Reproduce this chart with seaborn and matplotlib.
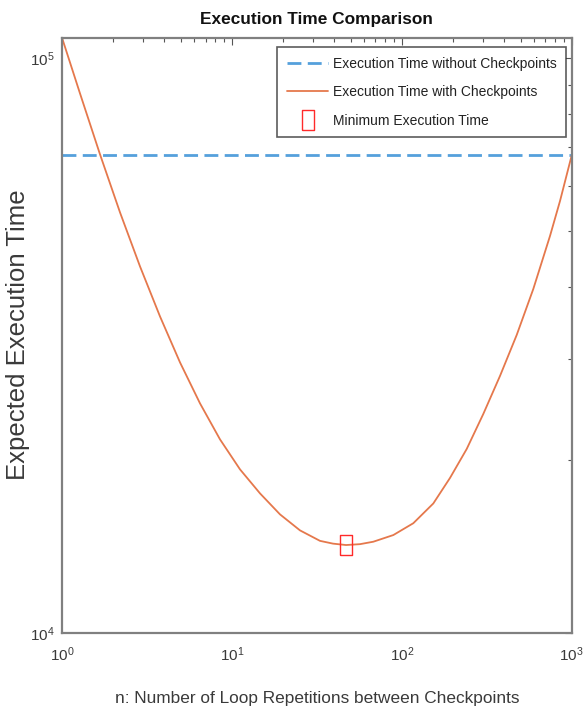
import matplotlib
matplotlib.use("Agg")
import matplotlib.pyplot as plt
import seaborn as sns
import numpy as np
import pandas as pd

# ---- data ----
n_values = [1, 1.276, 1.674, 2.195, 2.878, 3.774, 4.949, 6.491, 8.511, 11.16,
            14.64, 19.19, 25.17, 33.0, 39.36, 46.95, 56.76, 67.96, 89.13,
            116.9, 153.3, 192.2, 241.0, 301.8, 378.5, 474.7, 594.2, 745.2,
            853.5, 1000.0]
time_with_ckpt = [108600, 86890, 68060, 53950, 43460, 35570, 29590, 25110,
                  21740, 19280, 17510, 16100, 15100, 14480, 14320, 14240,
                  14290, 14430, 14820, 15540, 16820, 18630, 20920, 24070,
                  28030, 33030, 39700, 49090, 56470, 67800]
baseline_n = [1, 1000]
time_without_ckpt = [68000, 68000]
min_n = [46.95]
min_time = [14240]

title_text = "Execution Time Comparison"
xlabel_text = "n: Number of Loop Repetitions between Checkpoints"
ylabel_text = "Expected Execution Time"
legend_labels = ["Execution Time without Checkpoints",
                 "Execution Time with Checkpoints",
                 "Minimum Execution Time"]

sns.set_theme(style="white")
plt.rcParams['font.family'] = ['Liberation Sans', 'DejaVu Sans']
plt.rcParams['mathtext.default'] = 'regular'
plt.rcParams['mathtext.fontset'] = 'custom'
plt.rcParams['mathtext.rm'] = 'Liberation Sans'

fig = plt.figure(figsize=(5.86, 7.16), dpi=100)
ax = fig.add_axes([62/586, 1-633.3/716, (571.7-62)/586, (633.3-37.7)/716])
ax.set_xscale('log')
ax.set_yscale('log')

df_base = pd.DataFrame({"n": baseline_n, "t": time_without_ckpt})
df_curve = pd.DataFrame({"n": n_values, "t": time_with_ckpt})

sns.lineplot(data=df_base, x="n", y="t", ax=ax, color="#55a0dc", lw=2.0,
             linestyle=(0, (5, 2.3)), label=legend_labels[0])
sns.lineplot(data=df_curve, x="n", y="t", ax=ax, color="#e5784c", lw=1.3,
             label=legend_labels[1], sort=False)
rect = [(-0.65, -1), (0.65, -1), (0.65, 1), (-0.65, 1), (-0.65, -1)]
ax.plot(min_n, min_time, linestyle='none', marker=rect, markersize=14,
        markerfacecolor='none', markeredgecolor='#ff2a2a', markeredgewidth=1.0,
        label=legend_labels[2])

ax.set_xlim(1, 1000)
ax.set_ylim(1e4, 1.086e5)

gray = "#3a3a3a"
for s in ax.spines.values():
    s.set_color("#808080")
    s.set_linewidth(1.6)
ax.tick_params(which='both', direction='in', top=True, right=True,
               colors="#555555", labelcolor=gray, labelsize=11)
ax.tick_params(axis='x', which='major', pad=9)
ax.tick_params(axis='y', which='major', pad=5)
ax.tick_params(which='major', length=5, width=0.8)
ax.tick_params(which='minor', length=3, width=0.8)
ax.xaxis.set_minor_locator(matplotlib.ticker.LogLocator(base=10, subs=np.arange(2, 10), numticks=20))
ax.yaxis.set_minor_locator(matplotlib.ticker.LogLocator(base=10, subs=np.arange(2, 10), numticks=20))
ax.xaxis.set_minor_formatter(matplotlib.ticker.NullFormatter())
ax.yaxis.set_minor_formatter(matplotlib.ticker.NullFormatter())

ax.set_title(title_text, fontsize=12.4, fontweight='bold', color="#111111", pad=10)
ax.set_xlabel(xlabel_text, fontsize=12.4, color=gray, labelpad=19)
ax.set_ylabel(ylabel_text, fontsize=18.5, color=gray)
ax.yaxis.set_label_coords(-0.062, 0.501)

leg = ax.legend(loc='upper right', bbox_to_anchor=(0.9888, 0.9844),
                fontsize=10, frameon=True, fancybox=False,
                borderaxespad=0.0, handlelength=3.0, handletextpad=0.3,
                labelspacing=1.04, borderpad=0.7)
leg.get_frame().set_edgecolor("#333333")
leg.get_frame().set_linewidth(1.2)
for t in leg.get_texts():
    t.set_color("#222222")

fig.savefig("out.png", dpi=100)
